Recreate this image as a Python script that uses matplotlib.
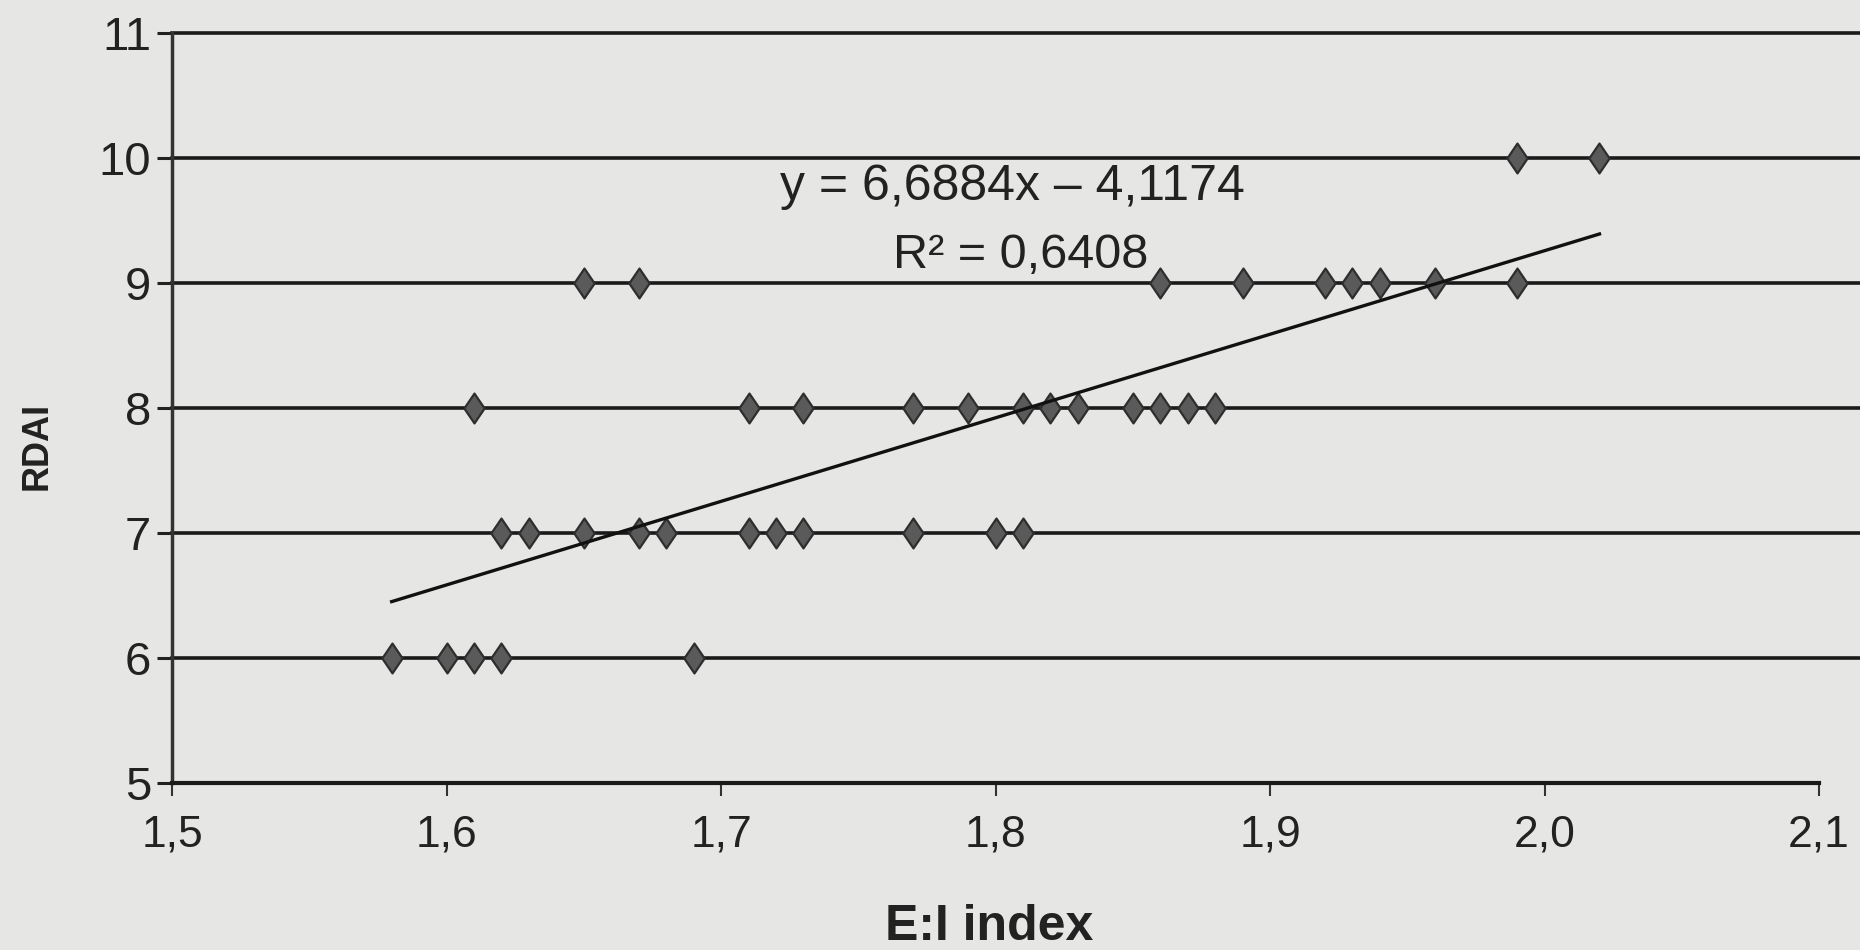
import matplotlib
matplotlib.use("Agg")
import matplotlib.pyplot as plt
from matplotlib.path import Path
import numpy as np

plt.rcParams['font.family'] = ['Liberation Sans', 'DejaVu Sans']

# Data (E:I index vs RDAI)
x_rdai6 = [1.58, 1.60, 1.61, 1.62, 1.69]
x_rdai7 = [1.62, 1.63, 1.65, 1.67, 1.68, 1.71, 1.72, 1.73, 1.77, 1.80, 1.81]
x_rdai8 = [1.61, 1.71, 1.73, 1.77, 1.79, 1.81, 1.82, 1.83, 1.85, 1.86, 1.87, 1.88]
x_rdai9 = [1.65, 1.67, 1.86, 1.89, 1.92, 1.93, 1.94, 1.96, 1.99]
x_rdai10 = [1.99, 2.02]
rdai_levels = [6, 7, 8, 9, 10]

slope = 6.6884
intercept = -4.1174
r2_label = "0,6408"

x_ticks = [1.5, 1.6, 1.7, 1.8, 1.9, 2.0, 2.1]
x_ticklabels = ["1,5", "1,6", "1,7", "1,8", "1,9", "2,0", "2,1"]
y_ticks = [5, 6, 7, 8, 9, 10, 11]

bg = '#e6e7e4'
fig = plt.figure(figsize=(18.6, 9.5), dpi=100, facecolor=bg)
ax = fig.add_axes([0.0925, 0.176, 0.8855, 0.789])
ax.set_facecolor(bg)

xs = []
ys = []
for lvl, arr in zip(rdai_levels, [x_rdai6, x_rdai7, x_rdai8, x_rdai9, x_rdai10]):
    xs += arr
    ys += [lvl] * len(arr)

ax.set_xlim(1.5, 2.1)
ax.set_ylim(5, 11)

# gridlines (extend beyond the right end of the axis as in the scan)
for yv in y_ticks[1:]:
    ax.plot([1.5, 2.115], [yv, yv], color='#1a1a1a', lw=2.6, clip_on=False, zorder=1)

diamond = Path([(0, 1), (0.68, 0), (0, -1), (-0.68, 0), (0, 1)],
               [Path.MOVETO, Path.LINETO, Path.LINETO, Path.LINETO, Path.CLOSEPOLY])
ax.scatter(xs, ys, marker=diamond, s=21.5**2, facecolor='#5a5a5a', edgecolor='#2e2e2e',
           linewidths=1.6, zorder=3, clip_on=False)

xt = np.array([min(xs), max(xs)])
ax.plot(xt, slope * xt + intercept, color='#111111', lw=2.4, zorder=4)

ax.text(1.806, 9.77, "y = 6,6884x – 4,1174", fontsize=36, ha='center', va='center', color='#222222')
ax.text(1.809, 9.22, "R² = " + r2_label, fontsize=35, ha='center', va='center', color='#222222')

for s in ['top', 'right']:
    ax.spines[s].set_visible(False)
ax.spines['left'].set_color('#333333')
ax.spines['left'].set_linewidth(2.5)
ax.spines['bottom'].set_color('#1a1a1a')
ax.spines['bottom'].set_linewidth(3.0)

ax.set_xticks(x_ticks)
ax.set_xticklabels(x_ticklabels)
ax.set_yticks(y_ticks)
ax.tick_params(axis='x', direction='out', length=9, width=1.5, colors='#333333',
               labelsize=32, pad=14, labelcolor='#222222')
ax.tick_params(axis='y', direction='out', length=11, width=2.2, colors='#222222',
               labelsize=34, pad=4, labelcolor='#222222')

ax.set_xlabel("E:I index", fontsize=36, fontweight='bold', color='#222222')
ax.xaxis.set_label_coords(0.496, -0.162)
ax.set_ylabel("RDAI", fontsize=26, fontweight='bold', color='#222222')
ax.yaxis.set_label_coords(-0.071, 0.45)

fig.savefig("out.png", dpi=100, facecolor=bg)
